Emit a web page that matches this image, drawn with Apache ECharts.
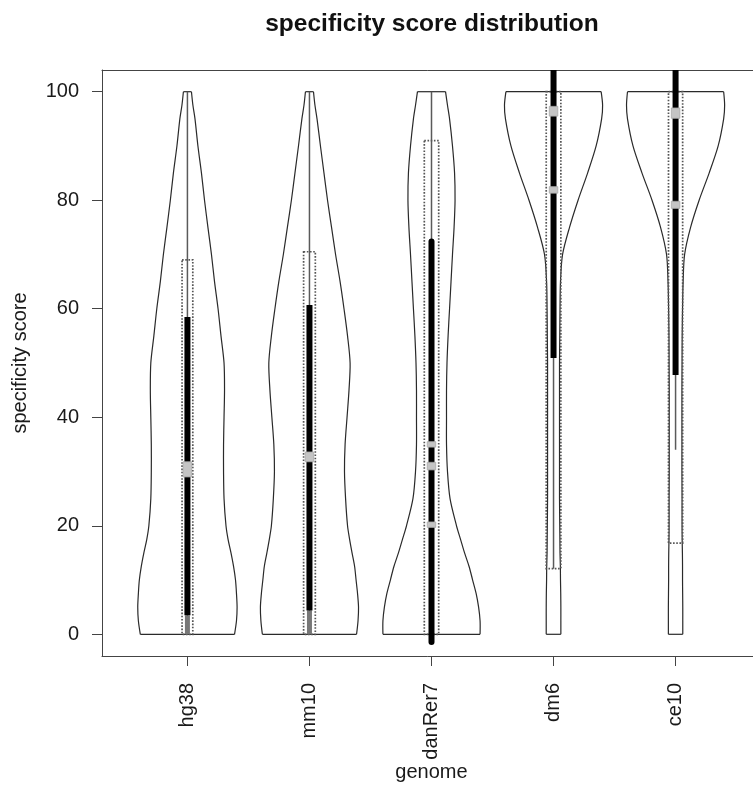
<!DOCTYPE html>
<html><head><meta charset="utf-8">
<script src="https://cdn.jsdelivr.net/npm/echarts@6/dist/echarts.min.js"></script>
<style>html,body{margin:0;padding:0;background:#fff}#c{width:753px;height:785px}</style>
</head><body><div id="c"></div>
<script>
// ---- data ----
const genomes = ['hg38', 'mm10', 'danRer7', 'dm6', 'ce10'];
const yTicks = [0, 20, 40, 60, 80, 100];
// violin density: half-width (in category units) at each score level
const densityY = [0, 2.5, 5, 7.5, 10, 12.5, 15, 17.5, 20, 25, 30, 35, 40, 45, 50, 55, 60, 65, 70, 75, 80, 85, 90, 95, 97.5, 100];
const densityHg38 = [0.386, 0.402, 0.407, 0.402, 0.394, 0.378, 0.357, 0.333, 0.316, 0.300, 0.296, 0.296, 0.300, 0.304, 0.300, 0.275, 0.251, 0.222, 0.197, 0.168, 0.140, 0.115, 0.086, 0.062, 0.045, 0.033];
const densityMm10 = [0.386, 0.398, 0.402, 0.394, 0.382, 0.370, 0.349, 0.329, 0.312, 0.296, 0.287, 0.292, 0.308, 0.324, 0.333, 0.312, 0.283, 0.251, 0.214, 0.181, 0.148, 0.119, 0.090, 0.062, 0.045, 0.033];
const densityDanRer7 = [0.398, 0.398, 0.386, 0.366, 0.337, 0.308, 0.271, 0.238, 0.205, 0.152, 0.131, 0.123, 0.123, 0.123, 0.127, 0.136, 0.148, 0.160, 0.172, 0.185, 0.193, 0.189, 0.172, 0.148, 0.131, 0.115];
const densityDm6 = [0.060, 0.060, 0.060, 0.059, 0.057, 0.056, 0.053, 0.052, 0.051, 0.049, 0.049, 0.049, 0.049, 0.049, 0.049, 0.051, 0.053, 0.057, 0.074, 0.131, 0.201, 0.279, 0.349, 0.394, 0.402, 0.390];
const densityCe10 = [0.059, 0.059, 0.059, 0.058, 0.057, 0.057, 0.056, 0.054, 0.053, 0.053, 0.052, 0.052, 0.052, 0.052, 0.053, 0.054, 0.057, 0.062, 0.074, 0.123, 0.193, 0.275, 0.349, 0.394, 0.402, 0.394];
const densities = [densityHg38, densityMm10, densityDanRer7, densityDm6, densityCe10];
// summary statistics
const whiskerLow = [0, 0, 0, 12.1, 34];
const whiskerHigh = [100, 100, 100, 100, 100];
const boxLow = [0, 0, 0, 12.1, 16.8];
const boxHigh = [69, 70.5, 91, 100, 100];
const boxHalfWidth = [0.044, 0.048, 0.059, 0.06, 0.058];
const iqrLow = [3.5, 4.4, -1.4, 50.9, 47.8];
const iqrHigh = [58.5, 60.7, 72.4, 106, 106];
const tailLow = [0, 0, null, null, null];
const tailHigh = [3.5, 4.4, null, null, null];
const medianMarks = [
  [[29, 31.8]],
  [[31.8, 33.6]],
  [[19.7, 20.7], [30.3, 31.7], [34.5, 35.5]],
  [[81.3, 82.5], [95.5, 97.3]],
  [[78.5, 79.8], [95.1, 97]]
];

// ---- chart ----
const FONT = "'Liberation Sans', Arial, Helvetica, sans-serif";
const positions = genomes.map((g, i) => i + 1);
const chart = echarts.init(document.getElementById('c'), null, {renderer: 'canvas'});

function renderItem(params, api) {
  const i = params.dataIndex;
  const x = api.value(0);
  const dens = densities[i];
  const left = densityY.map((y, k) => api.coord([x - dens[k], y]));
  const right = densityY.map((y, k) => api.coord([x + dens[k], y]));
  const outline = {stroke: '#2a2a2a', fill: null, lineWidth: 1.2};
  const n = densityY.length - 1;
  const children = [
    {type: 'polyline', shape: {points: left, smooth: 0.3}, style: outline},
    {type: 'polyline', shape: {points: right, smooth: 0.3}, style: outline},
    {type: 'line', shape: {x1: left[0][0], y1: left[0][1], x2: right[0][0], y2: right[0][1]}, style: outline},
    {type: 'line', shape: {x1: left[n][0], y1: left[n][1], x2: right[n][0], y2: right[n][1]}, style: outline}
  ];
  // dotted box
  const b1 = api.coord([x - boxHalfWidth[i], boxHigh[i]]);
  const b2 = api.coord([x + boxHalfWidth[i], boxLow[i]]);
  children.push({type: 'rect', shape: {x: b1[0], y: b1[1], width: b2[0] - b1[0], height: b2[1] - b1[1]},
    style: {stroke: '#555', fill: null, lineWidth: 1.7, lineDash: [1.6, 1.6]}});
  // whisker
  const w1 = api.coord([x, whiskerLow[i]]);
  const w2 = api.coord([x, whiskerHigh[i]]);
  children.push({type: 'line', shape: {x1: w1[0], y1: w1[1], x2: w2[0], y2: w2[1]}, style: {stroke: '#5a5a5a', lineWidth: 1.5}});
  // lower tail
  if (tailHigh[i] != null) {
    const t1 = api.coord([x, tailLow[i]]);
    const t2 = api.coord([x, tailHigh[i]]);
    children.push({type: 'line', shape: {x1: t1[0], y1: t1[1], x2: t2[0], y2: t2[1]}, style: {stroke: '#777', lineWidth: 5}});
  }
  // IQR bar
  const q1 = api.coord([x, iqrLow[i]]);
  const q3 = api.coord([x, iqrHigh[i]]);
  children.push({type: 'line', shape: {x1: q1[0], y1: q1[1], x2: q3[0], y2: q3[1]},
    style: {stroke: '#000', lineWidth: 6, lineCap: i === 2 ? 'round' : 'butt'}});
  // median marks
  medianMarks[i].forEach(m => {
    const m1 = api.coord([x - 0.035, m[1]]);
    const m2 = api.coord([x + 0.035, m[0]]);
    children.push({type: 'rect', shape: {x: m1[0], y: m1[1], width: m2[0] - m1[0], height: m2[1] - m1[1]},
      style: {fill: '#c4c4c4', stroke: '#a8a8a8', lineWidth: 0.8}});
  });
  return {type: 'group', children: children};
}

const frameLine = {show: true, onZero: false, lineStyle: {color: '#444', width: 1}};

chart.setOption({
  animation: false,
  backgroundColor: '#fff',
  title: {
    text: 'specificity score distribution',
    left: 427, top: 7, textAlign: 'center',
    textStyle: {fontFamily: FONT, fontSize: 24.5, fontWeight: 'bold', color: '#111'}
  },
  grid: {left: 102, top: 70, width: 659, height: 586, outerBoundsMode: 'none', containLabel: false, show: false},
  xAxis: [{
    type: 'value', min: 0.3, max: 5.7, position: 'bottom',
    axisLine: frameLine, splitLine: {show: false},
    axisTick: {show: true, customValues: positions, length: 10, lineStyle: {color: '#444', width: 1}},
    axisLabel: {customValues: positions, formatter: v => genomes[Math.round(v) - 1], rotate: 90, margin: 27,
      fontFamily: FONT, fontSize: 20, color: '#1a1a1a'},
    name: 'genome', nameLocation: 'middle', nameGap: 106, nameMoveOverlap: false,
    nameTextStyle: {fontFamily: FONT, fontSize: 20, color: '#1a1a1a'}
  }, {
    type: 'value', min: 0.3, max: 5.7, position: 'top',
    axisLine: frameLine, splitLine: {show: false}, axisTick: {show: false}, axisLabel: {show: false}
  }],
  yAxis: {
    type: 'value', min: -4, max: 104,
    axisLine: frameLine, splitLine: {show: false},
    axisTick: {show: true, customValues: yTicks, length: 10, lineStyle: {color: '#444', width: 1}},
    axisLabel: {customValues: yTicks, margin: 23, fontFamily: FONT, fontSize: 20, color: '#1a1a1a'},
    name: 'specificity score', nameLocation: 'middle', nameGap: 72, nameRotate: 90, nameMoveOverlap: false,
    nameTextStyle: {fontFamily: FONT, fontSize: 20, color: '#1a1a1a'}
  },
  series: [{
    type: 'custom',
    clip: true,
    xAxisIndex: 0,
    renderItem: renderItem,
    data: positions.map(p => [p]),
    encode: {x: 0}
  }]
});
</script>
</body></html>
